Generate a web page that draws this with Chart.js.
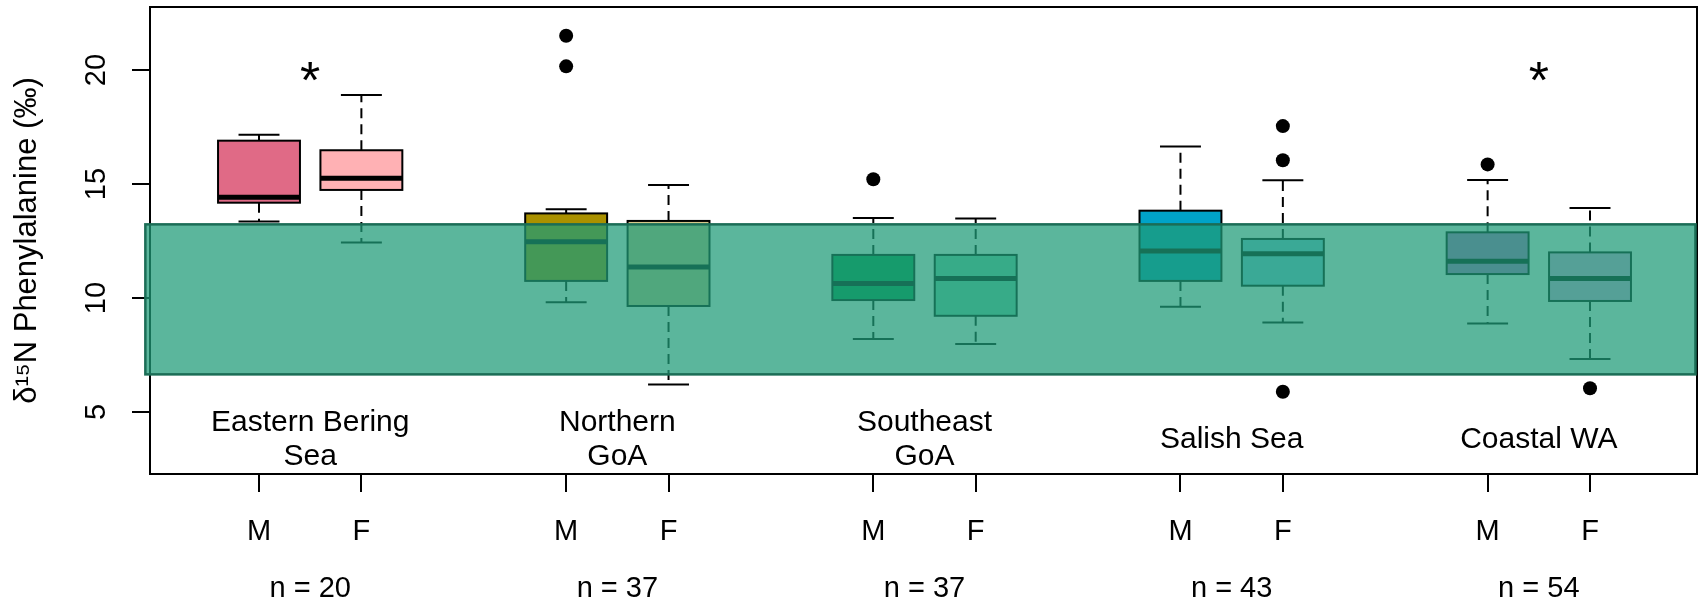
<!DOCTYPE html>
<html>
<head>
<meta charset="utf-8">
<script src="https://cdn.jsdelivr.net/npm/chart.js@4.4.0/dist/chart.umd.min.js"></script>
<style>
  html, body { margin: 0; padding: 0; background: #fff; }
</style>
</head>
<body>
<canvas id="myChart" width="1698" height="602"></canvas>
<script>
const regions = ['Eastern Bering\nSea', 'Northern\nGoA', 'Southeast\nGoA', 'Salish Sea', 'Coastal WA'];
const sampleSizes = [20, 37, 37, 43, 54];
const significant = [true, false, false, false, true];
const sexLabels = ['M', 'F'];
const boxPositions = [1, 2, 4, 5, 7, 8, 10, 11, 13, 14];
const groupCenters = [1.5, 4.5, 7.5, 10.5, 13.5];
const yTicks = [5, 10, 15, 20];

// box stats, M then F for each region
const whiskerLow = [13.35, 12.43, 9.81, 6.21, 8.2, 7.98, 9.62, 8.93, 8.88, 7.32];
const q1 = [14.18, 14.74, 10.75, 9.65, 9.91, 9.22, 10.75, 10.54, 11.05, 9.87];
const medians = [14.42, 15.25, 12.47, 11.36, 10.64, 10.86, 12.06, 11.94, 11.61, 10.85];
const q3 = [16.9, 16.48, 13.71, 13.38, 11.89, 11.89, 13.83, 12.59, 12.88, 12.0];
const whiskerHigh = [17.16, 18.9, 13.89, 14.96, 13.51, 13.49, 16.65, 15.16, 15.18, 13.95];
const outliers = [[], [], [21.5, 20.16], [], [15.21], [], [], [17.54, 16.04, 5.89], [15.86], [6.04]];

// reference range shown as the green band
const bandRange = [6.65, 13.23];

const boxColors = ['#e06a86', '#ffb1b4', '#aa9100', '#d7c98b', '#009c4e', '#7ad7b5',
                   '#00a3c8', '#85cfe9', '#c16fcf', '#e9aeed'];

const FONT = "'Liberation Sans', Arial, Helvetica, sans-serif";
Chart.defaults.color = '#000';
Chart.defaults.font.family = FONT;

const outlierPoints = [];
outliers.forEach((vals, i) => vals.forEach(v => outlierPoints.push({x: boxPositions[i], y: v})));

const boxPlugin = {
  id: 'boxplots',
  beforeDatasetsDraw(chart) {
    const {ctx, chartArea: a, scales: {x, y}} = chart;
    ctx.save();
    ctx.strokeStyle = '#000';
    ctx.lineWidth = 2;
    ctx.strokeRect(a.left, a.top, a.right - a.left, a.bottom - a.top);

    boxPositions.forEach((pos, i) => {
      const xc = x.getPixelForValue(pos);
      const half = x.getPixelForValue(pos + 0.4) - xc;
      const cap = half / 2;
      const yLo = y.getPixelForValue(whiskerLow[i]);
      const yQ1 = y.getPixelForValue(q1[i]);
      const yMed = y.getPixelForValue(medians[i]);
      const yQ3 = y.getPixelForValue(q3[i]);
      const yHi = y.getPixelForValue(whiskerHigh[i]);

      ctx.strokeStyle = '#000';
      ctx.lineWidth = 2;
      ctx.setLineDash([10, 6]);
      ctx.beginPath();
      ctx.moveTo(xc, yQ3); ctx.lineTo(xc, yHi);
      ctx.moveTo(xc, yQ1); ctx.lineTo(xc, yLo);
      ctx.stroke();
      ctx.setLineDash([]);
      ctx.beginPath();
      ctx.moveTo(xc - cap, yHi); ctx.lineTo(xc + cap, yHi);
      ctx.moveTo(xc - cap, yLo); ctx.lineTo(xc + cap, yLo);
      ctx.stroke();

      ctx.fillStyle = boxColors[i];
      ctx.fillRect(xc - half, yQ3, half * 2, yQ1 - yQ3);
      ctx.strokeRect(xc - half, yQ3, half * 2, yQ1 - yQ3);

      ctx.lineWidth = 5;
      ctx.beginPath();
      ctx.moveTo(xc - half, yMed); ctx.lineTo(xc + half, yMed);
      ctx.stroke();
    });

    // band over everything drawn so far
    const bx0 = x.getPixelForValue(-0.11);
    const bx1 = x.getPixelForValue(15.03);
    const by0 = y.getPixelForValue(bandRange[1]);
    const by1 = y.getPixelForValue(bandRange[0]);
    ctx.fillStyle = 'rgba(30, 155, 119, 0.73)';
    ctx.fillRect(bx0, by0, bx1 - bx0, by1 - by0);
    ctx.strokeStyle = '#1b6d56';
    ctx.lineWidth = 2.5;
    ctx.strokeRect(bx0, by0, bx1 - bx0, by1 - by0);
    ctx.restore();
  },
  afterDatasetsDraw(chart) {
    const {ctx, scales: {x, y}} = chart;
    ctx.save();
    ctx.fillStyle = '#000';
    ctx.textAlign = 'center';
    ctx.textBaseline = 'middle';
    ctx.font = '30px ' + FONT;
    regions.forEach((name, i) => {
      const lines = name.split('\n');
      const cx = x.getPixelForValue(groupCenters[i]);
      const cy = y.getPixelForValue(3.77);
      lines.forEach((line, j) => {
        ctx.fillText(line, cx, cy + (j - (lines.length - 1) / 2) * 34);
      });
    });
    ctx.font = '52px ' + FONT;
    ctx.textBaseline = 'alphabetic';
    significant.forEach((s, i) => {
      if (!s) return;
      ctx.fillText('*', x.getPixelForValue(groupCenters[i]), y.getPixelForValue(20) + 28);
    });
    ctx.restore();
  }
};

new Chart(document.getElementById('myChart'), {
  type: 'scatter',
  data: {
    datasets: [{
      label: 'outliers',
      data: outlierPoints,
      pointRadius: 7,
      pointHoverRadius: 7,
      backgroundColor: '#000',
      borderWidth: 0,
      clip: false
    }]
  },
  options: {
    responsive: false,
    animation: false,
    devicePixelRatio: 1,
    layout: { autoPadding: false, padding: { top: 7, right: 1, left: 0, bottom: 0 } },
    plugins: { legend: { display: false }, tooltip: { enabled: false } },
    scales: {
      x: {
        type: 'linear',
        position: 'bottom',
        min: -0.0646,
        max: 15.045,
        weight: 0,
        afterBuildTicks: s => { s.ticks = boxPositions.map(v => ({value: v})); },
        afterFit: s => { s.height = 80; s.paddingLeft = 0; s.paddingRight = 0; },
        ticks: {
          autoSkip: false,
          maxRotation: 0,
          padding: 23,
          font: { size: 29 },
          callback: (v, i) => sexLabels[i % 2]
        },
        grid: { display: true, drawOnChartArea: false, drawTicks: true, tickLength: 18, color: '#000', lineWidth: 2 },
        border: { display: false }
      },
      x2: {
        type: 'linear',
        position: 'bottom',
        axis: 'x',
        min: -0.0646,
        max: 15.045,
        weight: 1,
        afterBuildTicks: s => { s.ticks = groupCenters.map(v => ({value: v})); },
        afterFit: s => { s.height = 48; s.paddingLeft = 0; s.paddingRight = 0; },
        ticks: {
          autoSkip: false,
          maxRotation: 0,
          padding: 10,
          font: { size: 29 },
          callback: (v, i) => 'n = ' + sampleSizes[i]
        },
        grid: { display: false },
        border: { display: false }
      },
      y: {
        type: 'linear',
        position: 'left',
        min: 2.281,
        max: 22.763,
        afterBuildTicks: s => { s.ticks = yTicks.map(v => ({value: v})); },
        afterFit: s => { s.width = 150; s.paddingTop = 0; s.paddingBottom = 0; },
        ticks: {
          minRotation: 90,
          maxRotation: 90,
          crossAlign: 'center',
          padding: 19,
          font: { size: 29 }
        },
        grid: { display: true, drawOnChartArea: false, drawTicks: true, tickLength: 18, color: '#000', lineWidth: 2 },
        border: { display: false },
        title: {
          display: true,
          text: 'δ¹⁵N Phenylalanine (‰)',
          font: { size: 31 },
          padding: { top: 9, bottom: 0 }
        }
      }
    }
  },
  plugins: [boxPlugin]
});
</script>
</body>
</html>
